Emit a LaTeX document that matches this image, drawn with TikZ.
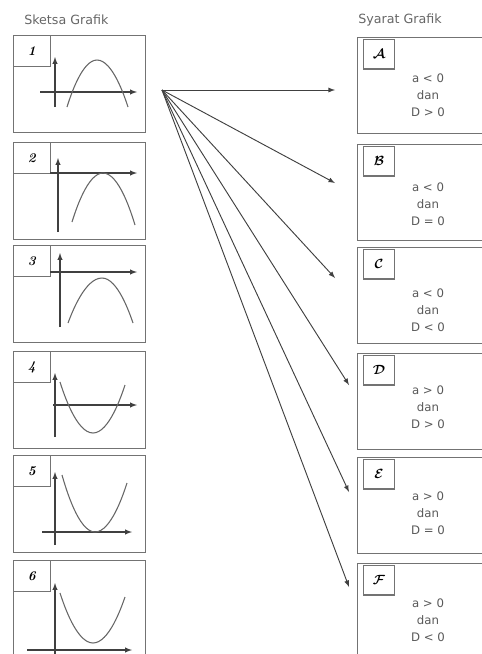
\documentclass[tikz,border=0pt]{standalone}
\usepackage{fontspec}
\newfontfamily\sansteks{DejaVu Sans}
\usepackage{amsmath, amssymb}
\usetikzlibrary{arrows}

\begin{document}
\begin{tikzpicture}[x=0.75pt, y=-0.75pt,
				>=latex,   %Voreinstellung für Pfeilspitzen
				grafik/.style={draw=black!55, line width=1pt, minimum width=99pt, minimum height=72.5pt, anchor=north west, inner sep=0pt},
				nomor/.style={draw=black!55, line width=0.9pt, minimum width=27.5pt, minimum height=23pt, anchor=north west, inner sep=0pt, font=\bfseries\itshape},
				syarat/.style={draw=black!55, line width=1pt, minimum width=105pt, minimum height=72pt, anchor=north west, inner sep=0pt},
				huruf/.style={draw=black!55, line width=0.9pt, minimum width=23pt, minimum height=22pt, anchor=north west, inner sep=0pt},
				isi/.style={font=\sansteks\fontsize{8.8}{12.6}\selectfont, text=black!65, align=center},
				judul/.style={font=\sansteks\fontsize{9.5}{11}\selectfont, text=black!60, anchor=west, inner sep=0pt},
				sumbu/.style={->, black!75, line width=0.8pt},
				kurva/.style={black!60, line width=0.8pt},
				panah/.style={->, black!75, line width=0.7pt}]
				\useasboundingbox (0,0) rectangle (482,654);
				\clip (0,0) rectangle (482,654);
				% Überschriften
				\node[judul] (kiri) at (24,20) {Sketsa Grafik};
				\node[judul] (kanan) at (358,20) {Syarat Grafik};
				% Kästen links
				\foreach \i/\y in {1/35,2/142,3/245,4/351,5/455,6/560} {
					\node[grafik] (g\i) at (13,\y) {};
					\node[nomor] (n\i) at (g\i.north west) {\i};
				}
				% Kästen rechts
				\foreach \bu/\yy in {A/37,B/144,C/247,D/353,E/457,F/563} {
					\node[syarat] (s\bu) at (357,\yy) {};
					\node[huruf] (l\bu) at ([xshift=4.5pt,yshift=-1.5pt]s\bu.north west) {$\boldsymbol{\mathcal{\bu}}$};
				}
				% Bedingungen
				\node[isi] (kA) at (428,95) {a < 0\\dan\\D > 0};
				\node[isi] (kB) at (428,204) {a < 0\\dan\\D = 0};
				\node[isi] (kC) at (428,310) {a < 0\\dan\\D < 0};
				\node[isi] (kD) at (428,407) {a > 0\\dan\\D > 0};
				\node[isi] (kE) at (428,513) {a > 0\\dan\\D = 0};
				\node[isi] (kF) at (428,620) {a > 0\\dan\\D < 0};
				% Achsen und Parabeln
				\draw[sumbu] (55,107) -- (55,57);
				\draw[sumbu] (40,92) -- (137,92);
				\draw[kurva] (67,107) parabola bend (97,60) (128,107);
				\draw[sumbu] (58,232) -- (58,158);
				\draw[sumbu] (50,173) -- (137,173);
				\draw[kurva] (72,222) parabola bend (103,173) (135,225);
				\draw[sumbu] (60,327) -- (60,253);
				\draw[sumbu] (50,272) -- (137,272);
				\draw[kurva] (68,323) parabola bend (102,278) (133,323);
				\draw[sumbu] (55,437) -- (55,373);
				\draw[sumbu] (53,405) -- (137,405);
				\draw[kurva] (60,382) parabola bend (93,433) (125,385);
				\draw[sumbu] (55,545) -- (55,472);
				\draw[sumbu] (42,532) -- (132,532);
				\draw[kurva] (62,475) parabola bend (95,532) (127,483);
				\draw[sumbu] (55,660) -- (55,583);
				\draw[sumbu] (27,650) -- (132,650);
				\draw[kurva] (60,593) parabola bend (93,643) (125,597);
				% Pfeile
				\coordinate (pusat) at (162,90);
				\foreach \i/\x/\y in {1/335/90,2/335/183,3/335/278,4/349/385,5/349/492,6/349/587}
					\coordinate (t\i) at (\x,\y);
				\foreach \i in {1,...,6} \draw[panah] (pusat) -- (t\i);
			\end{tikzpicture}
\end{document}
